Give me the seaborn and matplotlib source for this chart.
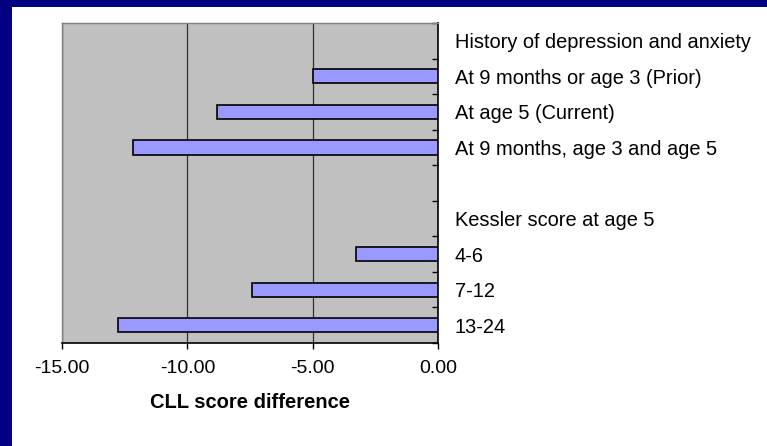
import matplotlib
matplotlib.use("Agg")
import matplotlib.pyplot as plt
from matplotlib.patches import Rectangle
from matplotlib.ticker import FixedLocator
import seaborn as sns
import pandas as pd

# rows shown on the axis (headers and the blank spacer have no bar)
row_labels = [
    "History of depression and anxiety",
    "At 9 months or age 3 (Prior)",
    "At age 5 (Current)",
    "At 9 months, age 3 and age 5",
    "",
    "Kessler score at age 5",
    "4-6",
    "7-12",
    "13-24",
]
bar_labels = [
    "At 9 months or age 3 (Prior)",
    "At age 5 (Current)",
    "At 9 months, age 3 and age 5",
    "4-6",
    "7-12",
    "13-24",
]
score_diff = [-5.0, -8.84, -12.18, -3.28, -7.44, -12.76]
x_ticks = [-15, -10, -5, 0]

df = pd.DataFrame({"group": bar_labels, "diff": score_diff})

sns.set_style("white")
plt.rcParams["font.family"] = ["Liberation Sans", "DejaVu Sans"]
plt.rcParams["text.color"] = "black"
plt.rcParams["axes.labelcolor"] = "black"
plt.rcParams["xtick.color"] = "black"
plt.rcParams["ytick.color"] = "black"

fig = plt.figure(figsize=(7.67, 4.46), dpi=100)
fig.patch.set_facecolor("white")

# slide frame: navy strip on the left and top
fig.patches.append(Rectangle((0, 0), 12 / 767, 1, transform=fig.transFigure,
                             facecolor="#000080", edgecolor="none", zorder=0))
fig.patches.append(Rectangle((0, 1 - 7 / 446), 1, 7 / 446, transform=fig.transFigure,
                             facecolor="#000080", edgecolor="none", zorder=0))

ax = fig.add_axes([62 / 767, 1 - 343 / 446, (438.3 - 62) / 767, 320 / 446])
ax.set_facecolor("#C0C0C0")

sns.barplot(data=df, x="diff", y="group", order=row_labels, color="#9999FF",
            saturation=1, width=0.4, edgecolor="black", linewidth=1.2, ax=ax, zorder=3)

ax.set_xlim(-15, 0)
ax.set_ylim(8.5, -0.5)
ax.set_xticks(x_ticks)
ax.set_xticklabels([f"{v:.2f}" for v in x_ticks], fontsize=14)
ax.xaxis.grid(True, color="#303030", linewidth=0.9, zorder=1)
ax.yaxis.grid(False)

# category labels on the right side of the zero axis
ax.yaxis.tick_right()
ax.set_yticks(range(len(row_labels)))
ax.set_yticklabels(row_labels, fontsize=14.4)
ax.tick_params(axis="y", which="major", length=0, pad=12)
ax.yaxis.set_minor_locator(FixedLocator([i - 0.5 for i in range(len(row_labels) + 1)]))
ax.tick_params(axis="y", which="minor", right=True, left=False, direction="in",
               length=4.5, width=1, color="black")
ax.tick_params(axis="x", which="major", bottom=True, direction="out",
               length=4.5, width=1, color="black", pad=8)

ax.set_ylabel("")
ax.set_xlabel("CLL score difference", fontsize=14.5, fontweight="bold", labelpad=11)

for side in ["left", "top"]:
    ax.spines[side].set_color("#808080")
    ax.spines[side].set_linewidth(1)
for side in ["right", "bottom"]:
    ax.spines[side].set_color("black")
    ax.spines[side].set_linewidth(1.2)
    ax.spines[side].set_visible(True)

fig.savefig("out.png", dpi=100, facecolor=fig.get_facecolor())
